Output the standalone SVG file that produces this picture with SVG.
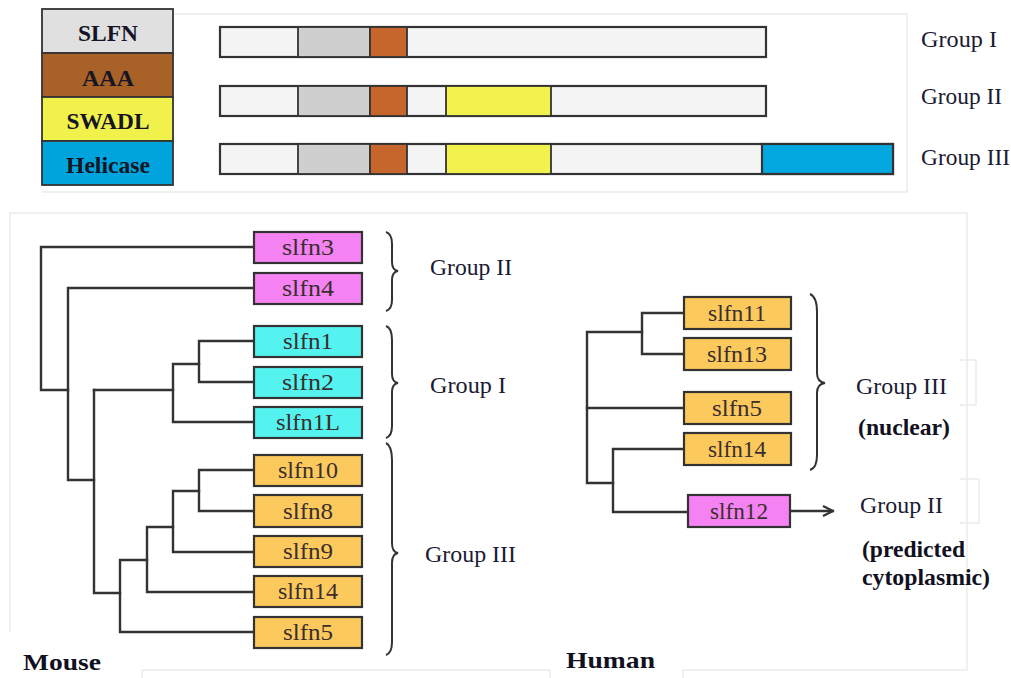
<svg xmlns="http://www.w3.org/2000/svg" width="1011" height="678" viewBox="0 0 1011 678">
<defs>
<style>
.frame{fill:none;stroke:#ececec;stroke-width:1.5}
.bar{stroke:#333;stroke-width:2.2}
.seg{stroke:#333;stroke-width:1.8}
.node{stroke:#333;stroke-width:2.2}
.pink{fill:#f582f2}
.cyan{fill:#55f3ef}
.orng{fill:#fcc95c}
.ntxt{font-family:"Liberation Serif","Times New Roman",serif;font-size:23px;fill:#3a2e2e;text-anchor:middle}
.grp{font-family:"Liberation Serif","Times New Roman",serif;font-size:23px;fill:#1a1a33}
.bold{font-family:"Liberation Serif","Times New Roman",serif;font-weight:bold;font-size:23px;fill:#111122}
.lg{font-family:"Liberation Serif","Times New Roman",serif;font-weight:bold;font-size:23px;fill:#151525;text-anchor:middle}
.edge{fill:none;stroke:#333;stroke-width:2.4;stroke-linecap:square}
.brace{fill:none;stroke:#333;stroke-width:2}
</style>
<marker id="arr" viewBox="0 0 12 12" refX="11" refY="6" markerWidth="12" markerHeight="12" markerUnits="userSpaceOnUse" orient="auto">
<path d="M1 1 L11 6 L1 11" fill="none" stroke="#333" stroke-width="2.2"/>
</marker>
</defs>
<rect width="1011" height="678" fill="#fff"/>

<g id="frames">
<path class="frame" d="M173 14 H907 V192 H42"/>
<path class="frame" d="M10 632 V213 H967 V670 H683 V678 M550 678 V670 H142 V678"/>
<path class="frame" d="M960 360 H976 V405 H960 M960 479 H979 V523 H960" stroke="#f2f2f2"/>
</g>

<g id="legend">
<rect x="42" y="9" width="131" height="44" fill="#e0e0e0" stroke="#333" stroke-width="1.8"/>
<rect x="42" y="53" width="131" height="44" fill="#a86126" stroke="#333" stroke-width="1.8"/>
<rect x="42" y="97" width="131" height="44" fill="#f1f14c" stroke="#333" stroke-width="1.8"/>
<rect x="42" y="141" width="131" height="44" fill="#00a4dc" stroke="#333" stroke-width="1.8"/>
<text class="lg" x="108" y="41" textLength="60" lengthAdjust="spacingAndGlyphs">SLFN</text>
<text class="lg" x="108" y="86" textLength="52" lengthAdjust="spacingAndGlyphs" fill="#2a1608">AAA</text>
<text class="lg" x="108" y="129" textLength="83" lengthAdjust="spacingAndGlyphs">SWADL</text>
<text class="lg" x="108" y="173" textLength="84" lengthAdjust="spacingAndGlyphs">Helicase</text>
</g>

<g id="bar1">
<rect class="bar" x="220" y="27" width="546" height="30" fill="#f4f4f4"/>
<rect class="seg" x="298" y="27" width="72" height="30" fill="#cfcfcf"/>
<rect class="seg" x="370" y="27" width="37" height="30" fill="#c7662c"/>
<text class="grp" x="921" y="47" textLength="76" lengthAdjust="spacingAndGlyphs">Group I</text>
</g>
<g id="bar2">
<rect class="bar" x="220" y="86" width="546" height="30" fill="#f4f4f4"/>
<rect class="seg" x="298" y="86" width="72" height="30" fill="#cfcfcf"/>
<rect class="seg" x="370" y="86" width="37" height="30" fill="#c7662c"/>
<rect class="seg" x="446" y="86" width="105" height="30" fill="#f2f24e"/>
<text class="grp" x="921" y="104" textLength="81" lengthAdjust="spacingAndGlyphs">Group II</text>
</g>
<g id="bar3">
<rect class="bar" x="220" y="144" width="673" height="30" fill="#f4f4f4"/>
<rect class="seg" x="298" y="144" width="72" height="30" fill="#cfcfcf"/>
<rect class="seg" x="370" y="144" width="37" height="30" fill="#c7662c"/>
<rect class="seg" x="446" y="144" width="105" height="30" fill="#f2f24e"/>
<rect class="bar" x="762" y="144" width="131" height="30" fill="#04a8e0"/>
<text class="grp" x="921" y="165" textLength="89" lengthAdjust="spacingAndGlyphs">Group III</text>
</g>

<g id="connectors">
<path class="edge" d="M254 247 H41 V390 H68"/>
<path class="edge" d="M254 288 H68 V480 H94"/>
<path class="edge" d="M94 390 V593 H120"/>
<path class="edge" d="M94 390 H173"/>
<path class="edge" d="M254 422 H173 V364 H199"/>
<path class="edge" d="M254 341 H199 V382 H254"/>
<path class="edge" d="M254 632 H120 V560 H147"/>
<path class="edge" d="M254 592 H147 V527 H173"/>
<path class="edge" d="M254 552 H173 V491 H199"/>
<path class="edge" d="M254 470 H199 V511 H254"/>
<path class="edge" d="M684 313 H642 V354 H684"/>
<path class="edge" d="M642 332 H587 V483 H613"/>
<path class="edge" d="M587 408 H684"/>
<path class="edge" d="M684 449 H613 V512 H688"/>
<path class="edge" d="M790 511 H833" marker-end="url(#arr)"/>
<path class="brace" d="M386 232 Q392 234 392 244 L392 262 Q392 270 398 271 Q392 272 392 280 L392 300 Q392 309 386 311"/>
<path class="brace" d="M386 326 Q392 328 392 340 L392 374 Q392 382 398 383 Q392 384 392 392 L392 426 Q392 436 386 438"/>
<path class="brace" d="M386 443 Q392 446 392 460 L392 543 Q392 552 398 553 Q392 554 392 563 L392 642 Q392 653 386 655"/>
<path class="brace" d="M810 294 Q817 297 817 312 L817 373 Q817 382 825 383 Q817 384 817 393 L817 455 Q817 468 810 470"/>
</g>

<g id="mouse-labels">
<text class="grp" x="430" y="275" textLength="82" lengthAdjust="spacingAndGlyphs">Group II</text>
<text class="grp" x="430" y="393" textLength="76" lengthAdjust="spacingAndGlyphs">Group I</text>
<text class="grp" x="425" y="562" textLength="91" lengthAdjust="spacingAndGlyphs">Group III</text>
<text class="bold" x="23" y="670" textLength="78" lengthAdjust="spacingAndGlyphs">Mouse</text>
</g>

<g id="m-slfn3"><rect class="node pink" x="254" y="232" width="108" height="31"/><text class="ntxt" x="308" y="255" textLength="52" lengthAdjust="spacingAndGlyphs">slfn3</text></g>
<g id="m-slfn4"><rect class="node pink" x="254" y="273" width="108" height="31"/><text class="ntxt" x="308" y="296" textLength="52" lengthAdjust="spacingAndGlyphs">slfn4</text></g>
<g id="m-slfn1"><rect class="node cyan" x="254" y="326" width="108" height="31"/><text class="ntxt" x="308" y="349" textLength="50" lengthAdjust="spacingAndGlyphs">slfn1</text></g>
<g id="m-slfn2"><rect class="node cyan" x="254" y="367" width="108" height="31"/><text class="ntxt" x="308" y="390" textLength="52" lengthAdjust="spacingAndGlyphs">slfn2</text></g>
<g id="m-slfn1L"><rect class="node cyan" x="254" y="407" width="108" height="31"/><text class="ntxt" x="308" y="430" textLength="64" lengthAdjust="spacingAndGlyphs">slfn1L</text></g>
<g id="m-slfn10"><rect class="node orng" x="254" y="455" width="108" height="31"/><text class="ntxt" x="308" y="478" textLength="60" lengthAdjust="spacingAndGlyphs">slfn10</text></g>
<g id="m-slfn8"><rect class="node orng" x="254" y="495" width="108" height="32"/><text class="ntxt" x="308" y="519" textLength="50" lengthAdjust="spacingAndGlyphs">slfn8</text></g>
<g id="m-slfn9"><rect class="node orng" x="254" y="536" width="108" height="31"/><text class="ntxt" x="308" y="559" textLength="50" lengthAdjust="spacingAndGlyphs">slfn9</text></g>
<g id="m-slfn14"><rect class="node orng" x="254" y="576" width="108" height="31"/><text class="ntxt" x="308" y="599" textLength="60" lengthAdjust="spacingAndGlyphs">slfn14</text></g>
<g id="m-slfn5"><rect class="node orng" x="254" y="617" width="108" height="31"/><text class="ntxt" x="308" y="640" textLength="50" lengthAdjust="spacingAndGlyphs">slfn5</text></g>

<g id="h-slfn11"><rect class="node orng" x="684" y="297" width="107" height="32"/><text class="ntxt" x="737" y="321" textLength="58" lengthAdjust="spacingAndGlyphs">slfn11</text></g>
<g id="h-slfn13"><rect class="node orng" x="684" y="338" width="107" height="32"/><text class="ntxt" x="737" y="362" textLength="60" lengthAdjust="spacingAndGlyphs">slfn13</text></g>
<g id="h-slfn5"><rect class="node orng" x="684" y="392" width="107" height="32"/><text class="ntxt" x="737" y="416" textLength="50" lengthAdjust="spacingAndGlyphs">slfn5</text></g>
<g id="h-slfn14"><rect class="node orng" x="684" y="433" width="107" height="32"/><text class="ntxt" x="737" y="457" textLength="58" lengthAdjust="spacingAndGlyphs">slfn14</text></g>
<g id="h-slfn12"><rect class="node pink" x="688" y="495" width="102" height="32"/><text class="ntxt" x="739" y="519" textLength="58" lengthAdjust="spacingAndGlyphs">slfn12</text></g>

<g id="human-labels">
<text class="grp" x="856" y="394" textLength="91" lengthAdjust="spacingAndGlyphs">Group III</text>
<text class="bold" x="858" y="435" textLength="92" lengthAdjust="spacingAndGlyphs">(nuclear)</text>
<text class="grp" x="860" y="513" textLength="83" lengthAdjust="spacingAndGlyphs">Group II</text>
<text class="bold" x="862" y="557" textLength="103" lengthAdjust="spacingAndGlyphs">(predicted</text>
<text class="bold" x="862" y="585" textLength="128" lengthAdjust="spacingAndGlyphs">cytoplasmic)</text>
<text class="bold" x="566" y="668" textLength="89" lengthAdjust="spacingAndGlyphs">Human</text>
</g>
</svg>
